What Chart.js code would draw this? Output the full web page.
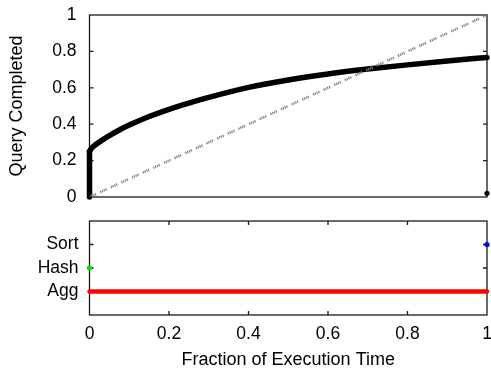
<!DOCTYPE html>
<html>
<head>
<meta charset="utf-8">
<script src="https://cdn.jsdelivr.net/npm/chart.js@4.4.1/dist/chart.umd.min.js"></script>
<style>
  html, body { margin: 0; padding: 0; background: #fff; }
  #wrap { position: relative; width: 491px; height: 371px; }
  canvas { position: absolute; left: 0; }
  #top { top: 0; }
  #bottom { top: 210px; }
</style>
</head>
<body>
<div id="wrap">
  <canvas id="top" width="491" height="210"></canvas>
  <canvas id="bottom" width="491" height="161"></canvas>
</div>
<script>
// progress curve (fraction of time -> fraction of query done)
const JUMP_X = [0, 0];
const JUMP_Y = [0, 0.25];
const CURVE_X = [0, 0.005, 0.015, 0.03, 0.05, 0.075, 0.1, 0.15, 0.2, 0.25, 0.3, 0.4, 0.5, 0.6, 0.7, 0.8, 0.9, 1.0];
const CURVE_Y = [0.25, 0.268, 0.287, 0.31, 0.337, 0.368, 0.395, 0.442, 0.482, 0.516, 0.547, 0.602, 0.643, 0.676, 0.703, 0.726, 0.747, 0.767];
const DIAG_X = [0, 1];
const DIAG_Y = [0, 1];
const END_X = [1];
const END_Y = [0.02];

// operator timeline
const OPS = ['Agg', 'Hash', 'Sort'];
const AGG_X = [0, 1];
const HASH_X = [0];
const SORT_X = [1];

const FAMILY = '"Liberation Sans", Arial, sans-serif';
Chart.defaults.font = { family: FAMILY, size: 17.5 };
Chart.defaults.color = '#000';
const TITLE_FONT = { family: FAMILY, size: 18 };

const pts = (xs, ys) => xs.map((x, i) => ({ x, y: ys[i] }));

// gnuplot-ish box with inward ticks
const frame = {
  id: 'frame',
  beforeDatasetsDraw(chart, args, opts) {
    const { ctx, chartArea: a, scales } = chart;
    ctx.save();
    ctx.strokeStyle = '#1a1a1a';
    ctx.lineWidth = 1.3;
    ctx.strokeRect(a.left, a.top, a.right - a.left, a.bottom - a.top);
    ctx.beginPath();
    scales.y.ticks.forEach(t => {
      const py = scales.y.getPixelForValue(t.value);
      if (py <= a.top + 1 || py >= a.bottom - 1) return;
      ctx.moveTo(a.left, py); ctx.lineTo(a.left + 4, py);
      ctx.moveTo(a.right, py); ctx.lineTo(a.right - 4, py);
    });
    if (opts.xTicks) {
      scales.x.ticks.forEach(t => {
        const px = scales.x.getPixelForValue(t.value);
        if (px <= a.left + 1 || px >= a.right - 1) return;
        ctx.moveTo(px, a.top); ctx.lineTo(px, a.top + 4);
        ctx.moveTo(px, a.bottom); ctx.lineTo(px, a.bottom - 4);
      });
    }
    ctx.stroke();
    ctx.restore();
  }
};

const fitY = s => { s.width = 89.5; s.paddingTop = 0; s.paddingBottom = 0; };
const fmt = v => String(Math.round(v * 10) / 10);

new Chart(document.getElementById('top'), {
  type: 'scatter',
  data: {
    datasets: [
      { data: pts(DIAG_X, DIAG_Y), showLine: true, borderColor: '#808080', borderWidth: 2.5,
        borderDash: [1.2, 0.8, 1.2, 0.8, 1.2, 0.8, 1.2, 4.5], pointRadius: 0 },
      { data: pts(CURVE_X, CURVE_Y), showLine: true, borderColor: '#000', borderWidth: 5.5,
        cubicInterpolationMode: 'monotone', borderCapStyle: 'round', pointRadius: 0, clip: false },
      { data: pts(JUMP_X, JUMP_Y), showLine: true, borderColor: '#000', borderWidth: 5.5,
        borderCapStyle: 'round', pointRadius: 0, clip: false },
      { data: pts(END_X, END_Y), pointRadius: 2.6, backgroundColor: '#000', borderWidth: 0, clip: false },
    ]
  },
  options: {
    responsive: false,
    animation: false,
    layout: { padding: { top: 15, bottom: 13, left: 0, right: 3 } },
    plugins: { legend: { display: false }, tooltip: { enabled: false }, frame: { xTicks: false } },
    scales: {
      x: { type: 'linear', min: 0, max: 1, display: false },
      y: {
        min: 0, max: 1,
        ticks: { stepSize: 0.2, padding: 13, autoSkip: false, callback: fmt },
        grid: { display: false, drawTicks: false },
        border: { display: false },
        title: { display: true, text: 'Query Completed', font: TITLE_FONT, padding: { top: 6, bottom: 0 } },
        afterFit: fitY
      }
    }
  },
  plugins: [frame]
});

new Chart(document.getElementById('bottom'), {
  type: 'scatter',
  data: {
    datasets: [
      { data: HASH_X.map(x => ({ x, y: 1 })), pointRadius: 2.6, backgroundColor: '#00e000', borderWidth: 0, clip: false },
      { data: SORT_X.map(x => ({ x, y: 2 })), pointRadius: 2.6, backgroundColor: '#0000ff', borderWidth: 0, clip: false },
      { data: AGG_X.map(x => ({ x, y: 0 })), showLine: true, borderColor: '#ff0000', borderWidth: 4.5,
        borderCapStyle: 'round', pointRadius: 0, clip: false },
    ]
  },
  options: {
    responsive: false,
    animation: false,
    layout: { padding: { top: 11, bottom: 0, left: 0, right: 3 } },
    plugins: { legend: { display: false }, tooltip: { enabled: false }, frame: { xTicks: true } },
    scales: {
      x: {
        type: 'linear', min: 0, max: 1,
        ticks: { stepSize: 0.2, padding: 9, maxRotation: 0, autoSkip: false, callback: fmt },
        grid: { display: false, drawTicks: false },
        border: { display: false },
        title: { display: true, text: 'Fraction of Execution Time', font: TITLE_FONT, padding: { top: 0, bottom: 0 } },
        afterFit: s => { s.height = 56; s.paddingLeft = 0; s.paddingRight = 0; }
      },
      y: {
        min: -1, max: 3,
        ticks: { stepSize: 1, padding: 11, autoSkip: false, callback: v => OPS[v] ?? '' },
        grid: { display: false, drawTicks: false },
        border: { display: false },
        afterFit: fitY
      }
    }
  },
  plugins: [frame]
});
</script>
</body>
</html>
